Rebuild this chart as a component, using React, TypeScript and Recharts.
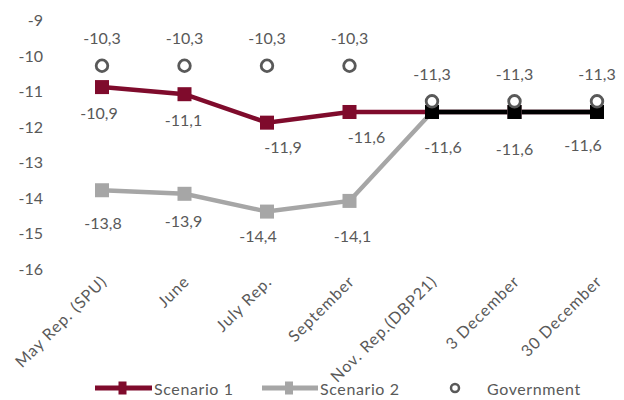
import React from 'react';
import { LineChart, Line, XAxis, YAxis, LabelList, Legend } from 'recharts';

const categories = ['May Rep. (SPU)', 'June', 'July Rep.', 'September', 'Nov. Rep.(DBP21)', '3 December', '30 December'];
const scenario1 = [-10.9, -11.1, -11.9, -11.6, -11.6, -11.6, -11.6];
const scenario2 = [-13.8, -13.9, -14.4, -14.1, -11.6, -11.6, -11.6];
const converged = [null, null, null, null, -11.6, -11.6, -11.6];
const government = [-10.3, -10.3, -10.3, -10.3, -11.3, -11.3, -11.3];
const yTicks = [-9, -10, -11, -12, -13, -14, -15, -16];

const data = categories.map((name, i) => ({
  name,
  s1: scenario1[i],
  s2: scenario2[i],
  both: converged[i],
  gov: government[i],
}));

const RED = '#7f0b2c';
const GREY = '#a6a6a6';
const BLACK = '#000000';
const TEXT = '#595959';
const FONT = 'Lato, "DejaVu Sans", sans-serif';

// label placement around each point: [dx, dy], keyed by point index
const s1Shift: Record<number, [number, number]> = { 0: [-3, 25], 1: [-1, 25], 2: [16, 24], 3: [17, 25] };
const s2Shift: Record<number, [number, number]> = { 0: [1, 32], 1: [-1, 27], 2: [-9, 24], 3: [3, 35] };
const bothShift: Record<number, [number, number]> = { 4: [11, 35], 5: [0, 37], 6: [-14, 33] };
const govShift = (i: number): [number, number] => [0, -28];

const fmt = (v: number) => String(v).replace('.', ',');

const makeLabel = (shift: (i: number) => [number, number] | undefined) => (props: any) => {
  const { x, y, value, index } = props;
  const s = shift(index);
  if (!s || value == null) return null;
  return (
    <text
      x={x + s[0]}
      y={y + s[1]}
      textAnchor="middle"
      dominantBaseline="central"
      fill={TEXT}
      fontSize={16}
      fontFamily={FONT}
    >
      {fmt(value)}
    </text>
  );
};

const SquareDot = (color: string, size: number) => (props: any) => {
  const { cx, cy, index } = props;
  if (cx == null || cy == null || props.value == null) return <g key={`d${index}`} />;
  return <rect key={`d${index}`} x={cx - size / 2} y={cy - size / 2} width={size} height={size} fill={color} />;
};

const RingDot = (props: any) => {
  const { cx, cy, index } = props;
  return <circle key={`g${index}`} cx={cx} cy={cy} r={5.8} fill="#ffffff" stroke={TEXT} strokeWidth={2.8} />;
};

const XTick = (props: any) => {
  const { x, y, payload } = props;
  return (
    <g transform={`translate(${x + 6},${y + 14})`}>
      <text
        transform="rotate(-45)"
        textAnchor="end"
        fill={TEXT}
        fontSize={16}
        letterSpacing={1}
        fontFamily={FONT}
      >
        {payload.value}
      </text>
    </g>
  );
};

const YTick = (props: any) => {
  const { x, y, payload } = props;
  return (
    <text x={x} y={y} textAnchor="end" dominantBaseline="central" fill={TEXT} fontSize={16} fontFamily={FONT}>
      {payload.value}
    </text>
  );
};

const legendText = { fill: TEXT, fontSize: 16, fontFamily: FONT, letterSpacing: 0.6 };

const LegendBox = () => (
  <svg width={624} height={24} style={{ display: 'block' }}>
    <g>
      <line x1={95} x2={152} y1={12} y2={12} stroke={RED} strokeWidth={5} />
      <rect x={118.5} y={5.5} width={8} height={13} fill={RED} />
      <text x={154} y={12} dominantBaseline="central" {...legendText}>Scenario 1</text>
    </g>
    <g>
      <line x1={262} x2={318} y1={12} y2={12} stroke={GREY} strokeWidth={5} />
      <rect x={285} y={5.5} width={8} height={13} fill={GREY} />
      <text x={320} y={12} dominantBaseline="central" {...legendText}>Scenario 2</text>
    </g>
    <g>
      <circle cx={455} cy={12} r={4} fill="#ffffff" stroke={TEXT} strokeWidth={2.5} />
      <text x={487} y={12} dominantBaseline="central" {...legendText}>Government</text>
    </g>
  </svg>
);

export default function App() {
  return (
    <div style={{ position: 'absolute', left: 0, top: 0, width: 624, height: 400, background: '#ffffff' }}>
      <LineChart
        width={624}
        height={400}
        data={data}
        margin={{ top: 19.5, right: 0, bottom: 31.5, left: 0 }}
      >
        <XAxis
          dataKey="name"
          axisLine={false}
          tickLine={false}
          tickSize={0}
          tickMargin={0}
          height={100}
          interval={0}
          padding={{ left: 42, right: 27 }}
          tick={<XTick />}
        />
        <YAxis
          domain={[-16, -9]}
          ticks={yTicks}
          axisLine={false}
          tickLine={false}
          tickSize={0}
          tickMargin={17}
          width={60}
          interval={0}
          tick={<YTick />}
        />
        <Legend
          verticalAlign="middle"
          align="center"
          layout="horizontal"
          wrapperStyle={{ top: 376, left: 0, width: 624, height: 24 }}
          content={<LegendBox />}
        />
        <Line
          dataKey="s1"
          name="Scenario 1"
          stroke={RED}
          strokeWidth={4.5}
          dot={SquareDot(RED, 14)}
          activeDot={false}
          isAnimationActive={false}
        >
          <LabelList dataKey="s1" content={makeLabel((i) => s1Shift[i])} />
        </Line>
        <Line
          dataKey="s2"
          name="Scenario 2"
          stroke={GREY}
          strokeWidth={4.5}
          dot={SquareDot(GREY, 14)}
          activeDot={false}
          isAnimationActive={false}
        >
          <LabelList dataKey="s2" content={makeLabel((i) => s2Shift[i])} />
        </Line>
        <Line
          dataKey="both"
          name="Scenarios 1-2"
          legendType="none"
          stroke={BLACK}
          strokeWidth={4.5}
          dot={SquareDot(BLACK, 14)}
          activeDot={false}
          isAnimationActive={false}
          connectNulls={false}
        >
          <LabelList dataKey="both" content={makeLabel((i) => bothShift[i])} />
        </Line>
        <Line
          dataKey="gov"
          name="Government"
          stroke="none"
          strokeWidth={0}
          dot={RingDot}
          activeDot={false}
          isAnimationActive={false}
        >
          <LabelList dataKey="gov" content={makeLabel(govShift)} />
        </Line>
      </LineChart>
    </div>
  );
}
